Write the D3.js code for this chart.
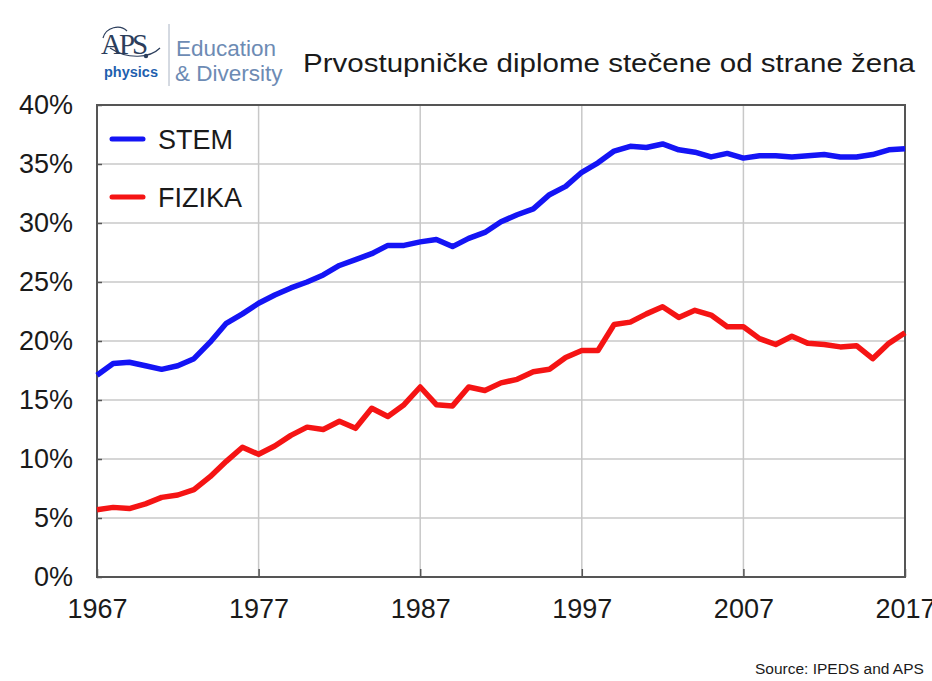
<!DOCTYPE html>
<html>
<head>
<meta charset="utf-8">
<script src="https://cdn.jsdelivr.net/npm/d3@7"></script>
<style>
  body { margin: 0; background: #fff; }
  svg { display: block; font-family: "Liberation Sans", Arial, sans-serif; }
</style>
</head>
<body>
<svg id="chart"></svg>
<script>
const years = d3.range(1967, 2018);
const stem = [17.1, 18.1, 18.2, 17.9, 17.6, 17.9, 18.5, 19.9, 21.5, 22.3,
  23.2, 23.9, 24.5, 25.0, 25.6, 26.4, 26.9, 27.4, 28.1, 28.1,
  28.4, 28.6, 28.0, 28.7, 29.2, 30.1, 30.7, 31.2, 32.4, 33.1,
  34.3, 35.1, 36.1, 36.5, 36.4, 36.7, 36.2, 36.0, 35.6, 35.9,
  35.5, 35.7, 35.7, 35.6, 35.7, 35.8, 35.6, 35.6, 35.8, 36.2, 36.3];
const fizika = [5.7, 5.9, 5.8, 6.2, 6.75, 6.95, 7.4, 8.5, 9.8, 11.0,
  10.4, 11.1, 12.0, 12.7, 12.5, 13.2, 12.6, 14.3, 13.6, 14.6,
  16.1, 14.6, 14.5, 16.1, 15.8, 16.45, 16.75, 17.4, 17.6, 18.6,
  19.2, 19.2, 21.4, 21.6, 22.3, 22.9, 22.0, 22.6, 22.2, 21.2,
  21.2, 20.2, 19.7, 20.4, 19.8, 19.7, 19.5, 19.6, 18.5, 19.8, 20.7];
const seriesNames = ["STEM", "FIZIKA"];
const seriesColors = ["#1414f5", "#f51414"];
const xTicks = [1967, 1977, 1987, 1997, 2007, 2017];
const yTicks = [0, 5, 10, 15, 20, 25, 30, 35, 40];
const title = "Prvostupničke diplome stečene od strane žena";
const source = "Source: IPEDS and APS";

const width = 932, height = 681;
const margin = { top: 105, right: 27, bottom: 104, left: 97 };
const innerW = width - margin.left - margin.right;
const innerH = height - margin.top - margin.bottom;

const svg = d3.select("#chart")
  .attr("width", width)
  .attr("height", height);

const x = d3.scaleLinear().domain([1967, 2017]).range([0, innerW]);
const y = d3.scaleLinear().domain([0, 40]).range([innerH, 0]);

const g = svg.append("g")
  .attr("transform", `translate(${margin.left},${margin.top})`);

// grid
g.selectAll(".hgrid")
  .data(yTicks)
  .enter()
  .append("line")
  .attr("x1", 0).attr("x2", innerW)
  .attr("y1", d => y(d)).attr("y2", d => y(d))
  .attr("stroke", "#c8c8c8")
  .attr("stroke-width", 1.5);

g.selectAll(".vgrid")
  .data(xTicks)
  .enter()
  .append("line")
  .attr("x1", d => x(d)).attr("x2", d => x(d))
  .attr("y1", 0).attr("y2", innerH)
  .attr("stroke", "#c8c8c8")
  .attr("stroke-width", 1.5);

// axes (ticks point inward)
const yAxis = g.append("g")
  .call(d3.axisLeft(y).tickValues(yTicks).tickSize(-5).tickFormat(d => d + "%"));
yAxis.select(".domain").remove();
yAxis.selectAll("line").attr("stroke", "#555").attr("stroke-width", 1.5);
yAxis.selectAll("text")
  .attr("x", -24)
  .attr("fill", "#1a1a1a")
  .style("font-size", "27px")
  .style("font-family", "'Liberation Sans', Arial, sans-serif");

const xAxis = g.append("g")
  .attr("transform", `translate(0,${innerH})`)
  .call(d3.axisBottom(x).tickValues(xTicks).tickSize(-8).tickFormat(d3.format("d")));
xAxis.select(".domain").remove();
xAxis.selectAll("line").attr("stroke", "#555").attr("stroke-width", 1.5);
xAxis.selectAll("text")
  .attr("y", 22)
  .attr("fill", "#1a1a1a")
  .style("font-size", "27px")
  .style("font-family", "'Liberation Sans', Arial, sans-serif");

// plot frame
g.append("rect")
  .attr("width", innerW)
  .attr("height", innerH)
  .attr("fill", "none")
  .attr("stroke", "#555")
  .attr("stroke-width", 2);

// lines
const line = d3.line()
  .x((d, i) => x(years[i]))
  .y(d => y(d));

[stem, fizika].forEach((vals, k) => {
  g.append("path")
    .datum(vals)
    .attr("fill", "none")
    .attr("stroke", seriesColors[k])
    .attr("stroke-width", 5.5)
    .attr("stroke-linejoin", "round")
    .attr("d", line);
});

// legend
const legend = g.append("g").attr("transform", "translate(15,34)");
seriesNames.forEach((name, i) => {
  const row = legend.append("g").attr("transform", `translate(0,${i * 58})`);
  row.append("line")
    .attr("x1", 0).attr("x2", 31)
    .attr("stroke", seriesColors[i])
    .attr("stroke-width", 5)
    .attr("stroke-linecap", "round");
  row.append("text")
    .attr("x", 46)
    .attr("y", 10)
    .attr("fill", "#1a1a1a")
    .style("font-size", "27px")
    .text(name);
});

// header: logo + title
const logo = svg.append("g");
logo.append("text")
  .attr("x", 101).attr("y", 54)
  .attr("fill", "#2c3e5c")
  .style("font-family", "'Liberation Serif', 'DejaVu Serif', serif")
  .style("font-size", "29px")
  .style("letter-spacing", "-3px")
  .text("APS");
logo.append("path")
  .attr("d", "M103,38 C106,27 120,24 127,31 M110,48 C128,60 150,58 160,48")
  .attr("fill", "none")
  .attr("stroke", "#2c3e5c")
  .attr("stroke-width", 1.2);
logo.append("circle")
  .attr("cx", 146).attr("cy", 56).attr("r", 2.2)
  .attr("fill", "#2c3e5c");
logo.append("text")
  .attr("x", 104).attr("y", 77)
  .attr("fill", "#1f5fae")
  .style("font-size", "14.5px")
  .style("font-weight", "bold")
  .text("physics");
logo.append("line")
  .attr("x1", 169).attr("x2", 169)
  .attr("y1", 24).attr("y2", 86)
  .attr("stroke", "#aab4c4")
  .attr("stroke-width", 1);
logo.append("text")
  .attr("x", 176).attr("y", 56)
  .attr("fill", "#6d8bb4")
  .style("font-size", "22.5px")
  .text("Education");
logo.append("text")
  .attr("x", 175).attr("y", 81)
  .attr("fill", "#6d8bb4")
  .style("font-size", "22.5px")
  .text("& Diversity");

svg.append("text")
  .attr("x", 303).attr("y", 72)
  .attr("fill", "#1a1a1a")
  .style("font-size", "26px")
  .attr("textLength", 612)
  .attr("lengthAdjust", "spacingAndGlyphs")
  .text(title);

svg.append("text")
  .attr("x", 755).attr("y", 674)
  .attr("fill", "#1a1a1a")
  .style("font-size", "15.5px")
  .text(source);
</script>
</body>
</html>
